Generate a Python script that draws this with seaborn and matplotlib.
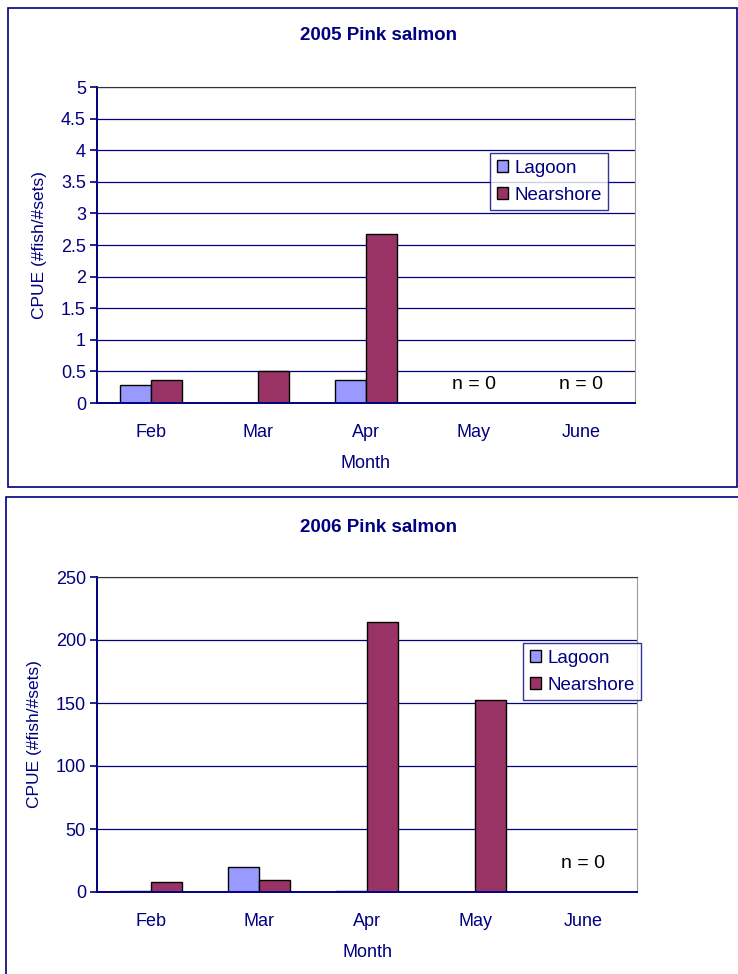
import numpy as np
import pandas as pd
import seaborn as sns
import matplotlib.pyplot as plt
from matplotlib.patches import Rectangle

# data
months = ['Feb', 'Mar', 'Apr', 'May', 'June']
lagoon_2005 = [0.28, 0.0, 0.37, np.nan, np.nan]
nearshore_2005 = [0.37, 0.5, 2.67, np.nan, np.nan]
lagoon_2006 = [0.6, 20.0, 0.8, 0.0, np.nan]
nearshore_2006 = [7.7, 9.3, 214.0, 152.5, np.nan]

NAVY = '#000080'
palette = {'Lagoon': '#9999FF', 'Nearshore': '#993366'}

sns.set_style('white')
plt.rcParams['font.family'] = ['Liberation Sans', 'DejaVu Sans']


def long_df(lag, near):
    return pd.DataFrame({
        'Month': months * 2,
        'Site': ['Lagoon'] * len(months) + ['Nearshore'] * len(months),
        'CPUE': lag + near,
    })


fig = plt.figure(figsize=(7.38, 9.74), dpi=100)

# outer chart frames
fig.patches.append(Rectangle((8 / 738, 1 - 487 / 974), 729 / 738, 479 / 974,
                             transform=fig.transFigure, fill=False,
                             edgecolor=NAVY, linewidth=1.2))
fig.patches.append(Rectangle((6 / 738, -0.01), 740 / 738, 1 - 497 / 974 + 0.01,
                             transform=fig.transFigure, fill=False,
                             edgecolor=NAVY, linewidth=1.2))


def draw(ax, df, ymax, step, title, title_y, legend_pos, n0_months, n0_y):
    sns.barplot(data=df, x='Month', y='CPUE', hue='Site', order=months,
                hue_order=['Lagoon', 'Nearshore'], palette=palette,
                width=0.575, gap=0, edgecolor='black', linewidth=1,
                errorbar=None, ax=ax, saturation=1)
    ax.set_ylim(0, ymax)
    ax.set_xlim(-0.5, 4.5)
    ax.set_yticks(np.arange(0, ymax + step / 2, step))
    ax.set_yticklabels([f'{v:g}' for v in np.arange(0, ymax + step / 2, step)])
    ax.yaxis.grid(True, color=NAVY, linewidth=0.9)
    ax.set_axisbelow(True)
    ax.set_xticks(np.arange(-0.5, 5, 1), minor=True)
    ax.tick_params(axis='x', which='major', length=0, pad=15,
                   labelsize=13, labelcolor=NAVY)
    ax.tick_params(axis='x', which='minor', length=5, color=NAVY, width=1.2)
    ax.tick_params(axis='y', length=5, color=NAVY, width=1.2,
                   labelsize=13, labelcolor=NAVY, pad=3, left=True)
    for side in ['left', 'bottom']:
        ax.spines[side].set_color(NAVY)
        ax.spines[side].set_linewidth(1.4)
    ax.spines['top'].set_color('#333333')
    ax.spines['right'].set_color('#999999')
    ax.set_xlabel('Month', color=NAVY, fontsize=13, labelpad=10)
    ax.set_ylabel('CPUE (#fish/#sets)', color=NAVY, fontsize=12.5, labelpad=10)
    leg = ax.legend(loc='upper left', bbox_to_anchor=legend_pos,
                    frameon=True, fancybox=False, fontsize=13.5,
                    handlelength=0.6, handleheight=0.6, handletextpad=0.35,
                    borderpad=0.35, labelspacing=0.55, borderaxespad=0)
    leg.get_frame().set_edgecolor(NAVY)
    leg.get_frame().set_linewidth(1)
    for t in leg.get_texts():
        t.set_color(NAVY)
    for h in leg.legend_handles:
        h.set_edgecolor('black')
    for m in n0_months:
        ax.text(months.index(m), n0_y, 'n = 0', ha='center', va='center',
                color='black', fontsize=14)
    fig.text(378 / 738, title_y, title, ha='center', va='center',
             color=NAVY, fontsize=13.5, fontweight='bold')


ax1 = fig.add_axes([97 / 738, 571 / 974, 538 / 738, 316 / 974])
draw(ax1, long_df(lagoon_2005, nearshore_2005), 5, 0.5, '2005 Pink salmon',
     1 - 36 / 974, (393 / 538, 1 - 66 / 316), ['May', 'June'], 0.3)

ax2 = fig.add_axes([97 / 738, 82 / 974, 540 / 738, 315 / 974])
draw(ax2, long_df(lagoon_2006, nearshore_2006), 250, 50, '2006 Pink salmon',
     1 - 527 / 974, (426 / 540, 1 - 66 / 315), ['June'], 23)

plt.savefig('out.png', dpi=100)
